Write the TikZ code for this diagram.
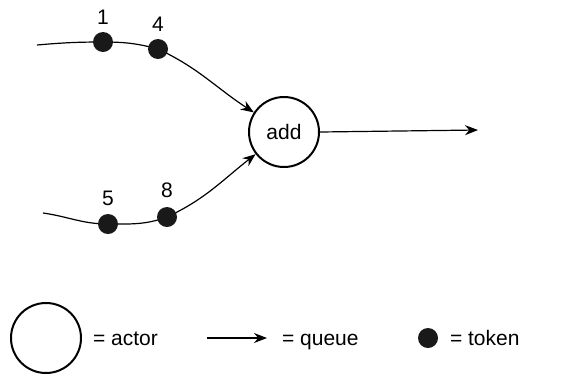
\documentclass[tikz,border=0pt]{standalone}
\usepackage{fontspec}
\setmainfont{Liberation Sans}
\usetikzlibrary{arrows.meta,positioning,backgrounds}
\tikzset{
  actor/.style={draw, line width=1pt, circle, minimum size=35pt, inner sep=0pt},
  token/.style={fill=black!90, circle, minimum size=10pt, inner sep=0pt},
  queue/.style={->, line width=0.6pt},
  legend/.style={anchor=base west},
}
\begin{document}
\begin{tikzpicture}[x=0.5pt, y=0.5pt, >={Stealth[length=6.5pt,width=5pt]},
  font=\fontsize{10.5}{12.6}\selectfont]
 \useasboundingbox (0,0) rectangle (561,377);
 % the add actor and its two input queues
 \node[actor] (add) at (284,245) {add};
 \coordinate (ina) at (37,332);
 \coordinate (inb) at (43,164);
 \coordinate (out) at (478,247);
 \node[token, label={[label distance=0pt]above:1}] (t1) at (103,335) {};
 \node[token, label={[label distance=0pt]above:4}] (t4) at (158,328) {};
 \node[token, label={[label distance=0.5pt]above:5}] (t5) at (108,153) {};
 \node[token, label={[label distance=1pt]above:8}] (t8) at (167,160) {};
 \begin{scope}[on background layer]
 \draw[queue] (ina) to[out=5,in=180] (t1.center) to[out=0,in=165] (t4.center)
   to[out=-25,in=147] (add);
 \draw[queue] (inb) to[out=-8,in=180] (t5.center) to[out=0,in=200] (t8.center)
   to[out=25,in=218] (add);
 \end{scope}
 \draw[queue] (add.east) -- (out);
 % legend
 \node[actor] (lact) at (46,39) {};
 \node[legend] (lacttxt) at (86,32) {= actor};
 \coordinate (lqa) at (207,39);
 \coordinate (lqb) at (267,39);
 \draw[queue] (lqa) -- (lqb);
 \node[legend] (lqtxt) at (275,32) {= queue};
 \node[token] (ltok) at (428,39) {};
 \node[legend] (ltoktxt) at (443,32) {= token};
\end{tikzpicture}
\end{document}
